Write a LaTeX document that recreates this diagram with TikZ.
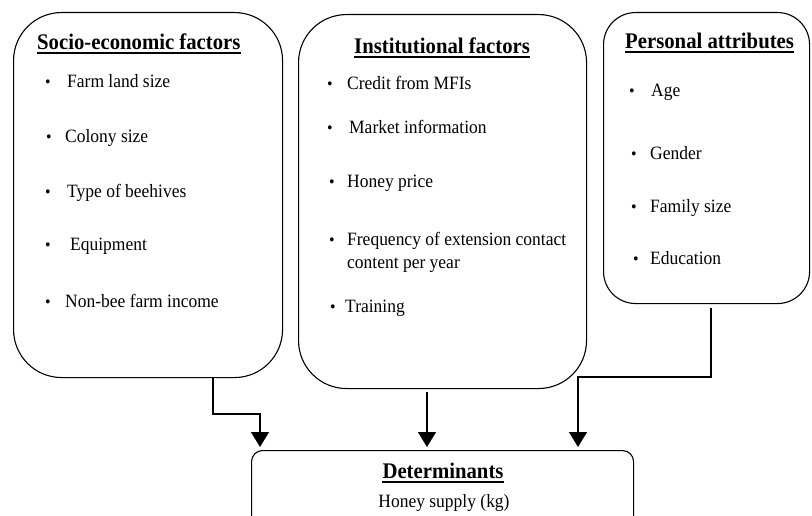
\documentclass[tikz,border=0pt]{standalone}
\usepackage{fontspec}
\setmainfont{Liberation Serif}[FakeStretch=0.93]
\usetikzlibrary{arrows.meta}
\tikzset{
  box/.style={draw, line width=1.1pt, anchor=north west, inner sep=0pt},
  ttl/.style={anchor=base west, inner sep=0pt, font=\fontsize{22.3}{25}\selectfont\bfseries},
  itm/.style={anchor=base west, inner sep=0pt, font=\fontsize{18.8}{22}\selectfont},
  bul/.style={anchor=base, inner sep=0pt, font=\fontsize{17}{18}\selectfont},
  ul/.style={line width=2pt},
  arr/.style={line width=1.5pt, -{Triangle[width=18pt,length=15pt]}, shorten >=3pt}
}
\begin{document}
\begin{tikzpicture}[x=1pt,y=-1pt]
\clip (0,0) rectangle (812,516);
\fill[white] (0,0) rectangle (812,516);
% boxes
\node[box, rounded corners=48pt, minimum width=269pt, minimum height=365pt] (b1) at (13,12) {};
\node[box, rounded corners=48pt, minimum width=288pt, minimum height=374pt] (b2) at (298,14) {};
\node[box, rounded corners=32pt, minimum width=206pt, minimum height=291pt] (b3) at (603,12) {};
\node[box, rounded corners=11pt, minimum width=382pt, minimum height=100pt] (det) at (251,450) {};
% box 1
\node[ttl] (t1) at (37,50) {Socio-economic factors};
\draw[ul] ([yshift=-3pt]t1.base west) -- ([yshift=-3pt]t1.base east);
\node[bul] (p11) at (48,88) {\textbullet};
\node[itm] (i11) at (67,88) {Farm land size};
\node[bul] (p12) at (49,143) {\textbullet};
\node[itm] (i12) at (65,143) {Colony size};
\node[bul] (p13) at (48,197) {\textbullet};
\node[itm] (i13) at (67,197) {Type of beehives};
\node[bul] (p14) at (48,251) {\textbullet};
\node[itm] (i14) at (70,251) {Equipment};
\node[bul] (p15) at (48,307) {\textbullet};
\node[itm] (i15) at (65,307) {Non-bee farm income};
% box 2
\node[ttl] (t2) at (354,54) {Institutional factors};
\draw[ul] ([yshift=-3.5pt]t2.base west) -- ([yshift=-3.5pt]t2.base east);
\node[bul] (p21) at (330,90) {\textbullet};
\node[itm] (i21) at (347,90) {Credit from MFIs};
\node[bul] (p22) at (330,134) {\textbullet};
\node[itm] (i22) at (349,134) {Market information};
\node[bul] (p23) at (332,188) {\textbullet};
\node[itm] (i23) at (347,188) {Honey price};
\node[bul] (p24) at (332,246) {\textbullet};
\node[itm] (i24) at (347,246) {Frequency of extension contact};
\node[itm] (i24b) at (347,268) {content per year};
\node[bul] (p25) at (333,312) {\textbullet};
\node[itm] (i25) at (345,312) {Training};
% box 3
\node[ttl] (t3) at (625,49) {Personal attributes};
\draw[ul] ([yshift=-3pt]t3.base west) -- ([yshift=-3pt]t3.base east);
\node[bul] (p31) at (632,97) {\textbullet};
\node[itm] (i31) at (651,97) {Age};
\node[bul] (p32) at (634,160) {\textbullet};
\node[itm] (i32) at (650,160) {Gender};
\node[bul] (p33) at (634,213) {\textbullet};
\node[itm] (i33) at (650,213) {Family size};
\node[bul] (p34) at (636,265) {\textbullet};
\node[itm] (i34) at (650,265) {Education};
% determinants
\node[ttl, anchor=base] (t4) at (443,478) {Determinants};
\draw[ul] ([yshift=-3.5pt]t4.base west) -- ([yshift=-3.5pt]t4.base east);
\node[itm, anchor=base] (hs) at (444,507) {Honey supply (kg)};
% connectors
\coordinate (c1) at (213,414);
\coordinate (c1x) at (260,0);
\coordinate (c2) at (427,0);
\coordinate (c3) at (711,377);
\coordinate (c3x) at (578,0);
\draw[arr] (b1.south -| c1) -- (c1) -| (det.north -| c1x);
\draw[arr] ([yshift=-3pt]b2.south -| c2) -- (det.north -| c2);
\draw[arr] ([yshift=-4pt]b3.south -| c3) -- (c3) -| (det.north -| c3x);
\end{tikzpicture}
\end{document}
